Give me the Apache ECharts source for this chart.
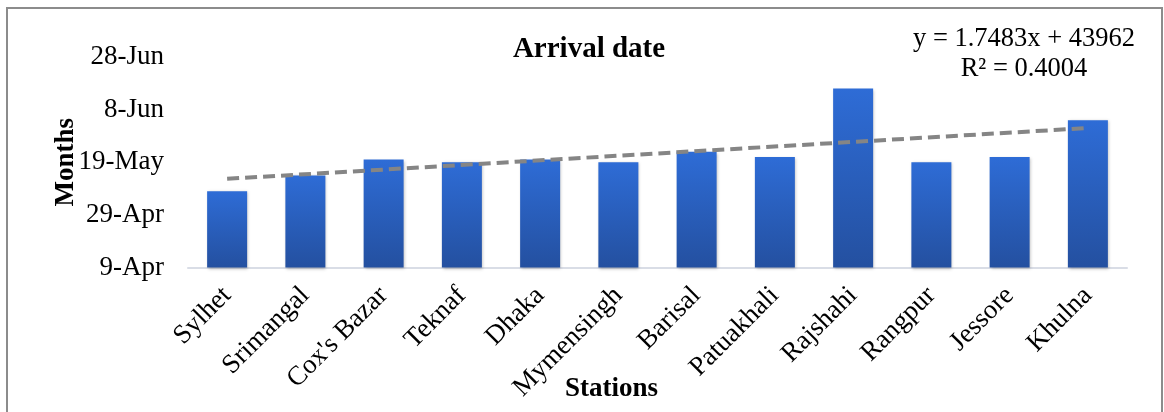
<!DOCTYPE html>
<html>
<head>
<meta charset="utf-8">
<script src="https://cdn.jsdelivr.net/npm/echarts@6/dist/echarts.min.js"></script>
<style>
  html, body { margin: 0; padding: 0; background: #fff; }
  #chart { width: 1164px; height: 412px; }
</style>
</head>
<body>
<div id="chart"></div>
<script>
// stations on the x axis
var stations = ['Sylhet', 'Srimangal', "Cox's Bazar", 'Teknaf', 'Dhaka', 'Mymensingh',
  'Barisal', 'Patuakhali', 'Rajshahi', 'Rangpur', 'Jessore', 'Khulna'];
// arrival dates as Excel serial numbers (43930 = 9-Apr)
var arrivalDate = [43959, 43965, 43971, 43970, 43971, 43970, 43974, 43972, 43998, 43970, 43972, 43986];
// linear trendline, value at first and last station
var trendEnds = [43963.7, 43983];
// y axis ticks (9-Apr .. 28-Jun)
var yTicks = [43930, 43950, 43970, 43990, 44010];
var trendLabel = ['y = 1.7483x + 43962', 'R² = 0.4004'];

var months = ['Jan', 'Feb', 'Mar', 'Apr', 'May', 'Jun', 'Jul', 'Aug', 'Sep', 'Oct', 'Nov', 'Dec'];
function serialToLabel(v) {
  var d = new Date(Date.UTC(1899, 11, 30) + v * 86400000);
  return d.getUTCDate() + '-' + months[d.getUTCMonth()];
}

var trendData = stations.map(function (s, i) {
  if (i === 0) return trendEnds[0];
  if (i === stations.length - 1) return trendEnds[1];
  return null;
});

var serif = '"Liberation Serif", "Times New Roman", serif';
var chart = echarts.init(document.getElementById('chart'));

chart.setOption({
  animation: false,
  textStyle: { fontFamily: serif },
  title: {
    text: 'Arrival date',
    left: 584,
    top: 30,
    textAlign: 'center',
    textStyle: { fontFamily: serif, fontWeight: 'bold', fontSize: 29, color: '#000' }
  },
  grid: { left: 188, right: 37, top: 57, bottom: 144.5, outerBoundsMode: 'none', containLabel: false },
  xAxis: {
    type: 'category',
    data: stations,
    name: 'Stations',
    nameLocation: 'middle',
    nameGap: 108,
    nameMoveOverlap: false,
    // name sits left of the plot centre in the original
    nameTextStyle: { fontFamily: serif, fontWeight: 'bold', fontSize: 27, color: '#000', padding: [0, 92, 0, 0] },
    axisLine: { lineStyle: { color: '#d9dde6', width: 2 } },
    axisTick: { show: false },
    axisLabel: { rotate: 45, margin: 24, fontSize: 27, color: '#000', fontFamily: serif, interval: 0 }
  },
  yAxis: {
    type: 'value',
    min: yTicks[0],
    max: yTicks[yTicks.length - 1],
    interval: 20,
    name: 'Months',
    nameLocation: 'middle',
    nameGap: 108,
    nameMoveOverlap: false,
    nameTextStyle: { fontFamily: serif, fontWeight: 'bold', fontSize: 27, color: '#000' },
    axisLine: { show: false },
    axisTick: { show: false },
    splitLine: { show: false },
    axisLabel: { fontSize: 27, color: '#000', fontFamily: serif, margin: 24, formatter: serialToLabel }
  },
  series: [
    {
      type: 'bar',
      data: arrivalDate,
      barWidth: 40,
      itemStyle: {
        color: new echarts.graphic.LinearGradient(0, 0, 0, 1, [
          { offset: 0, color: '#2e6cd6' },
          { offset: 1, color: '#2450a0' }
        ]),
        shadowColor: 'rgba(0,0,0,0.25)',
        shadowBlur: 3,
        shadowOffsetX: 1,
        shadowOffsetY: 1
      }
    },
    {
      type: 'line',
      data: trendData,
      connectNulls: true,
      symbol: 'none',
      lineStyle: { color: '#858585', width: 4, type: [12, 6] },
      z: 5
    }
  ],
  graphic: [
    {
      type: 'rect',
      shape: { x: 7, y: 8, width: 1155, height: 420 },
      style: { fill: null, stroke: '#8c8c8c', lineWidth: 2 },
      silent: true
    },
    {
      type: 'text',
      left: 1033 - 120,
      top: 24,
      style: {
        text: trendLabel.join('\n'),
        x: 120,
        textAlign: 'center',
        font: '26.5px ' + serif,
        lineHeight: 30,
        fill: '#000'
      }
    }
  ]
});
</script>
</body>
</html>
